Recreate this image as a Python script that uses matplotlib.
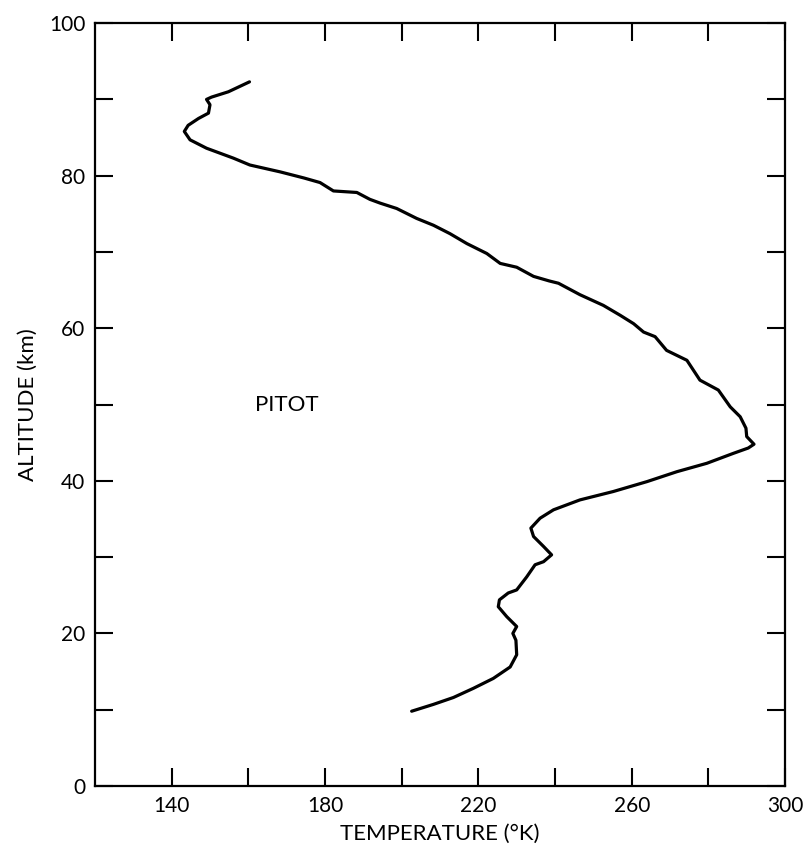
import matplotlib
matplotlib.use("Agg")
import matplotlib.pyplot as plt
from matplotlib.ticker import FixedLocator, NullFormatter

# Temperature (K) vs altitude (km)
temperature = [160.3, 154.8, 150.4, 149.1, 150.0, 149.6, 147.0, 144.3, 143.3, 144.8,
               149.1, 156.1, 160.4, 168.3, 174.5, 178.7, 182.2, 188.3, 191.7, 194.4,
               198.7, 203.9, 208.3, 212.6, 217.0, 222.2, 225.7, 230.0, 234.4, 238.5,
               240.9, 246.5, 252.6, 257.0, 260.5, 263.1, 266.1, 269.1, 274.4, 276.1,
               277.8, 282.6, 285.7, 288.3, 289.8, 290.0, 291.9, 290.4, 286.5, 279.6,
               271.8, 264.0, 255.2, 246.5, 239.6, 236.1, 233.7, 234.4, 237.0, 239.1,
               237.0, 234.8, 232.6, 230.0, 227.8, 225.5, 225.2, 227.4, 230.0, 229.0,
               229.8, 230.0, 228.3, 223.9, 218.7, 213.5, 208.3, 202.6]
altitude = [92.3, 91.0, 90.3, 90.0, 89.3, 88.2, 87.5, 86.6, 85.8, 84.7,
            83.6, 82.3, 81.4, 80.5, 79.7, 79.1, 78.0, 77.8, 76.9, 76.4,
            75.7, 74.4, 73.5, 72.4, 71.1, 69.8, 68.5, 68.0, 66.8, 66.2,
            65.9, 64.4, 63.0, 61.7, 60.6, 59.5, 58.9, 57.1, 55.8, 54.5,
            53.2, 51.9, 49.7, 48.4, 46.9, 45.8, 44.8, 44.3, 43.6, 42.3,
            41.2, 39.9, 38.6, 37.5, 36.2, 35.1, 33.8, 32.7, 31.4, 30.3,
            29.4, 29.0, 27.4, 25.7, 25.3, 24.4, 23.5, 22.2, 20.9, 20.0,
            19.1, 17.2, 15.6, 14.1, 12.8, 11.6, 10.7, 9.8]

x_major = [140, 180, 220, 260, 300]
x_minor = [160, 200, 240, 280]
y_major = [0, 20, 40, 60, 80, 100]
y_minor = [10, 30, 50, 70, 90]

plt.rcParams['font.family'] = ['Lato', 'DejaVu Sans']

fig = plt.figure(figsize=(8.09, 8.56), dpi=100)
ax = fig.add_axes([0.1174, 0.0818, 0.8530, 0.8912])

ax.plot(temperature, altitude, color='black', lw=2.3,
        solid_capstyle='round', solid_joinstyle='round')

ax.set_xlim(120, 300)
ax.set_ylim(0, 100)

ax.xaxis.set_major_locator(FixedLocator(x_major))
ax.xaxis.set_minor_locator(FixedLocator(x_minor))
ax.yaxis.set_major_locator(FixedLocator(y_major))
ax.yaxis.set_minor_locator(FixedLocator(y_minor))
ax.xaxis.set_minor_formatter(NullFormatter())
ax.yaxis.set_minor_formatter(NullFormatter())

ax.tick_params(which='both', direction='in', length=13, width=1.5,
               top=True, right=True, labelsize=15, pad=7)

for s in ax.spines.values():
    s.set_linewidth(1.6)

ax.set_xlabel('TEMPERATURE (°K)', fontsize=16, labelpad=6)
ax.set_ylabel('ALTITUDE (km)', fontsize=16, labelpad=8)

ax.text(161.7, 49.9, 'PITOT', fontsize=16, ha='left', va='center')

fig.savefig('out.png', dpi=100)
